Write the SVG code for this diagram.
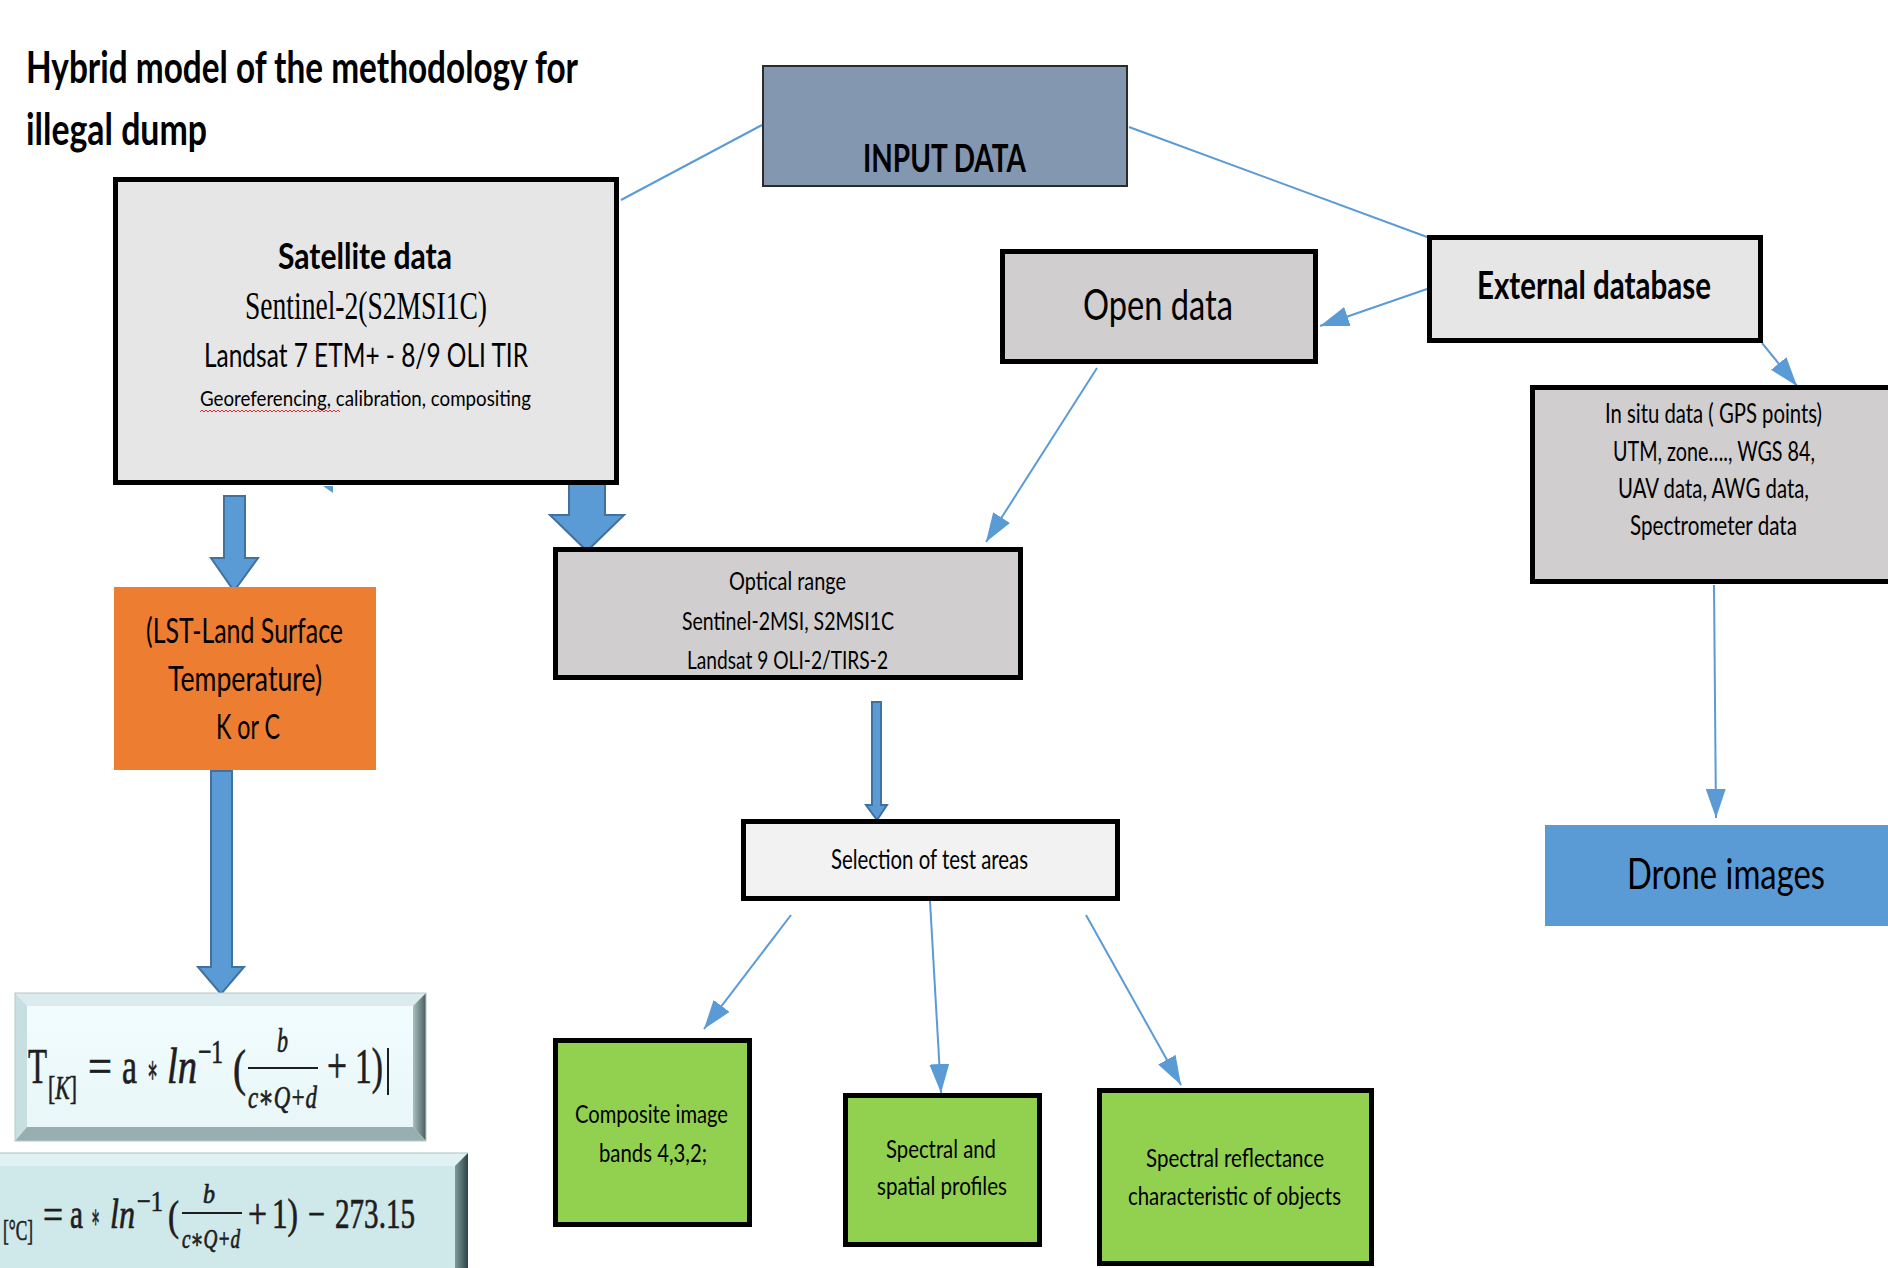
<svg xmlns="http://www.w3.org/2000/svg" width="1888" height="1268" viewBox="0 0 1888 1268">
<defs>
<style>
.t{font-family:Lato,"Liberation Sans",sans-serif;fill:#000}
.b{font-weight:bold}
.s{font-family:"Liberation Serif",serif;fill:#000}
.m{font-family:"Liberation Serif","DejaVu Serif",serif;fill:#1e1e1e;stroke:#1e1e1e;stroke-width:0.7}
.i{font-style:italic}
.box{stroke:#000;stroke-width:5}
.conn{stroke:#5b9bd5;stroke-width:2;fill:none;marker-end:url(#ah)}
.plain{stroke:#5b9bd5;stroke-width:2;fill:none}
.blk{fill:#5b9bd5;stroke:#41719c;stroke-width:2;stroke-linejoin:miter}
</style>
<marker id="ah" viewBox="0 0 29 20" refX="29" refY="10" markerWidth="29" markerHeight="20" markerUnits="userSpaceOnUse" orient="auto">
<path d="M0,0 L29,10 L0,20 z" fill="#5b9bd5"/>
</marker>
<linearGradient id="rb1" x1="0" y1="0" x2="1" y2="0">
<stop offset="0" stop-color="#a9bfc1"/><stop offset="1" stop-color="#4b5c5e"/>
</linearGradient>
<linearGradient id="rb2" x1="0" y1="0" x2="1" y2="0">
<stop offset="0" stop-color="#7f9a9c"/><stop offset="1" stop-color="#2e4244"/>
</linearGradient>
<linearGradient id="face1" x1="0" y1="0" x2="0" y2="1">
<stop offset="0" stop-color="#f2fdfe"/><stop offset="1" stop-color="#e8f6f8"/>
</linearGradient>
</defs>
<rect width="1888" height="1268" fill="#ffffff"/>

<g id="title">
<text class="t b" x="26" y="83" font-size="43" textLength="552" lengthAdjust="spacingAndGlyphs">Hybrid model of the methodology for</text>
<text class="t b" x="26" y="145" font-size="43" textLength="181" lengthAdjust="spacingAndGlyphs">illegal dump</text>
</g>

<g id="connectors">
<line class="plain" x1="762" y1="125" x2="621" y2="200"/>
<line class="plain" x1="1129" y1="127" x2="1427" y2="237"/>
<line class="conn" x1="1427" y1="289" x2="1320" y2="326"/>
<line class="conn" x1="1762" y1="343" x2="1797" y2="386"/>
<line class="conn" x1="1097" y1="368" x2="986" y2="542"/>
<line class="conn" x1="1714" y1="585" x2="1716" y2="818"/>
<line class="conn" x1="791" y1="915" x2="704" y2="1029"/>
<line class="conn" x1="930" y1="901" x2="941" y2="1093"/>
<line class="conn" x1="1086" y1="915" x2="1181" y2="1085"/>
<polygon class="blk" points="224,496 245,496 245,558 258,558 234,591 211,558 224,558"/>
<polygon class="blk" points="569,483 605,483 605,515 624,515 587,551 550,515 569,515"/>
<polygon class="blk" points="211,771 232,771 232,967 244,967 221,994 198,967 211,967"/>
<polygon class="blk" points="872,702 881,702 881,805 887,805 877,820 866,805 872,805" stroke-width="1.5"/>
<polygon points="323,486 333,486 333,493" fill="#5b9bd5"/>
</g>

<g id="input-data">
<rect x="763" y="66" width="364" height="120" fill="#8497b0" stroke="#2b2b2b" stroke-width="2"/>
<text class="t b" x="863" y="172" font-size="39" textLength="163" lengthAdjust="spacingAndGlyphs">INPUT DATA</text>
</g>

<g id="satellite-data">
<rect class="box" x="115.5" y="179.5" width="501" height="303" fill="#e6e6e6"/>
<text class="t b" x="278" y="269" font-size="36" textLength="174" lengthAdjust="spacingAndGlyphs">Satellite data</text>
<text class="s" x="245" y="319" font-size="41" textLength="242" lengthAdjust="spacingAndGlyphs">Sentinel-2(S2MSI1C)</text>
<text class="t" x="204" y="367" font-size="33" textLength="324" lengthAdjust="spacingAndGlyphs">Landsat 7 ETM+ - 8/9 OLI TIR</text>
<text class="t" x="200" y="406" font-size="22" textLength="331" lengthAdjust="spacingAndGlyphs">Georeferencing, calibration, compositing</text>
<path d="M200,412 l2,-2 l2,2 l2,-2 l2,2 l2,-2 l2,2 l2,-2 l2,2 l2,-2 l2,2 l2,-2 l2,2 l2,-2 l2,2 l2,-2 l2,2 l2,-2 l2,2 l2,-2 l2,2 l2,-2 l2,2 l2,-2 l2,2 l2,-2 l2,2 l2,-2 l2,2 l2,-2 l2,2 l2,-2 l2,2 l2,-2 l2,2 l2,-2 l2,2 l2,-2 l2,2 l2,-2 l2,2 l2,-2 l2,2 l2,-2 l2,2 l2,-2 l2,2 l2,-2 l2,2 l2,-2 l2,2 l2,-2 l2,2 l2,-2 l2,2 l2,-2 l2,2 l2,-2 l2,2 l2,-2 l2,2 l2,-2 l2,2 l2,-2 l2,2 l2,-2 l2,2 l2,-2 l2,2 l2,-2 l2,2" fill="none" stroke="#e03030" stroke-width="1"/>
</g>

<g id="external-database">
<rect class="box" x="1429.5" y="237.5" width="331" height="103" fill="#e7e6e6"/>
<text class="t b" x="1477" y="299" font-size="39" textLength="234" lengthAdjust="spacingAndGlyphs">External database</text>
</g>

<g id="open-data">
<rect class="box" x="1002.5" y="251.5" width="313" height="110" fill="#d0cece"/>
<text class="t" x="1083" y="320" font-size="42" textLength="150" lengthAdjust="spacingAndGlyphs">Open data</text>
</g>

<g id="in-situ-data">
<rect class="box" x="1532.5" y="387.5" width="400" height="194" fill="#d0cece"/>
<text class="t" x="1605" y="423" font-size="26" textLength="217" lengthAdjust="spacingAndGlyphs">In situ data ( GPS points)</text>
<text class="t" x="1613" y="461" font-size="26" textLength="202" lengthAdjust="spacingAndGlyphs">UTM, zone…., WGS 84,</text>
<text class="t" x="1618" y="498" font-size="26" textLength="191" lengthAdjust="spacingAndGlyphs">UAV data, AWG data,</text>
<text class="t" x="1630" y="535" font-size="26" textLength="167" lengthAdjust="spacingAndGlyphs">Spectrometer data</text>
</g>

<g id="drone-images">
<rect x="1545" y="825" width="360" height="101" fill="#5b9bd5"/>
<text class="t" x="1627" y="889" font-size="43" textLength="198" lengthAdjust="spacingAndGlyphs">Drone images</text>
</g>

<g id="optical-range">
<rect class="box" x="555.5" y="549.5" width="465" height="128" fill="#d0cece"/>
<text class="t" x="729" y="590" font-size="25" textLength="117" lengthAdjust="spacingAndGlyphs">Optical range</text>
<text class="t" x="682" y="630" font-size="25" textLength="212" lengthAdjust="spacingAndGlyphs">Sentinel-2MSI, S2MSI1C</text>
<text class="t" x="687" y="669" font-size="25" textLength="201" lengthAdjust="spacingAndGlyphs">Landsat 9 OLI-2/TIRS-2</text>
</g>

<g id="lst">
<rect x="114" y="587" width="262" height="183" fill="#ed7d31"/>
<text class="t" x="146" y="643" font-size="35" textLength="197" lengthAdjust="spacingAndGlyphs">(LST-Land Surface</text>
<text class="t" x="168" y="691" font-size="35" textLength="154" lengthAdjust="spacingAndGlyphs">Temperature)</text>
<text class="t" x="216" y="739" font-size="35" textLength="64" lengthAdjust="spacingAndGlyphs">K or C</text>
</g>

<g id="selection">
<rect class="box" x="743.5" y="821.5" width="374" height="77" fill="#f2f2f2"/>
<text class="t" x="831" y="869" font-size="26" textLength="197" lengthAdjust="spacingAndGlyphs">Selection of test areas</text>
</g>

<g id="composite">
<rect class="box" x="555.5" y="1040.5" width="194" height="184" fill="#92d050"/>
<text class="t" x="575" y="1123" font-size="25" textLength="153" lengthAdjust="spacingAndGlyphs">Composite image</text>
<text class="t" x="599" y="1162" font-size="25" textLength="108" lengthAdjust="spacingAndGlyphs">bands 4,3,2;</text>
</g>

<g id="spectral-spatial">
<rect class="box" x="845.5" y="1095.5" width="194" height="149" fill="#92d050"/>
<text class="t" x="886" y="1158" font-size="25" textLength="110" lengthAdjust="spacingAndGlyphs">Spectral and</text>
<text class="t" x="877" y="1195" font-size="25" textLength="130" lengthAdjust="spacingAndGlyphs">spatial profiles</text>
</g>

<g id="spectral-reflectance">
<rect class="box" x="1099.5" y="1090.5" width="272" height="173" fill="#92d050"/>
<text class="t" x="1146" y="1167" font-size="25" textLength="178" lengthAdjust="spacingAndGlyphs">Spectral reflectance</text>
<text class="t" x="1128" y="1205" font-size="25" textLength="213" lengthAdjust="spacingAndGlyphs">characteristic of objects</text>
</g>

<g id="formula-kelvin">
<rect x="15" y="993" width="411" height="148" fill="url(#face1)"/>
<polygon points="15,993 426,993 413,1006 27,1006" fill="#dcecee"/>
<polygon points="15,993 27,1006 27,1127 15,1141" fill="#c8dfe1"/>
<polygon points="426,993 426,1141 413,1127 413,1006" fill="url(#rb1)"/>
<polygon points="15,1141 426,1141 413,1127 27,1127" fill="#98aeb0"/>
<rect x="15" y="993" width="411" height="148" fill="none" stroke="#b8c8ca" stroke-width="1"/>
<text class="m" x="28" y="1083" font-size="50" textLength="19" lengthAdjust="spacingAndGlyphs">T</text>
<text class="m" x="48" y="1099" font-size="34" textLength="29" lengthAdjust="spacingAndGlyphs">[<tspan class="i">K</tspan>]</text>
<text class="m" x="88" y="1083" font-size="50" textLength="24" lengthAdjust="spacingAndGlyphs">=</text>
<text class="m" x="122" y="1083" font-size="50" textLength="15" lengthAdjust="spacingAndGlyphs">a</text>
<text class="m" x="147" y="1083" font-size="40" textLength="11" lengthAdjust="spacingAndGlyphs">∗</text>
<text class="m i" x="167" y="1083" font-size="50" textLength="30" lengthAdjust="spacingAndGlyphs">ln</text>
<text class="m" x="198" y="1063" font-size="34" textLength="25" lengthAdjust="spacingAndGlyphs">−1</text>
<text class="m" x="233" y="1085" font-size="50" textLength="13" lengthAdjust="spacingAndGlyphs">(</text>
<text class="m i" x="277" y="1052" font-size="34" textLength="11" lengthAdjust="spacingAndGlyphs">b</text>
<rect x="248" y="1067" width="70" height="2" fill="#1e1e1e"/>
<text class="m i" x="248" y="1108" font-size="32" textLength="69" lengthAdjust="spacingAndGlyphs">c∗Q+d</text>
<text class="m" x="327" y="1083" font-size="50" textLength="20" lengthAdjust="spacingAndGlyphs">+</text>
<text class="m" x="355" y="1083" font-size="50" textLength="28" lengthAdjust="spacingAndGlyphs">1)</text>
<rect x="387" y="1048" width="2" height="47" fill="#1e1e1e"/>
</g>

<g id="formula-celsius">
<rect x="-20" y="1153" width="488" height="130" fill="#cfe8ea"/>
<polygon points="-20,1153 468,1153 455,1166 -20,1166" fill="#e2f1f2"/>
<polygon points="468,1153 468,1283 455,1283 455,1166" fill="url(#rb2)"/>
<line x1="-20" y1="1153" x2="468" y2="1153" stroke="#a9bfc1" stroke-width="1"/>
<text class="m" x="-17" y="1228" font-size="42" textLength="17" lengthAdjust="spacingAndGlyphs">T</text>
<text class="m" x="3" y="1240" font-size="30" textLength="30" lengthAdjust="spacingAndGlyphs">[°C]</text>
<text class="m" x="43" y="1228" font-size="42" textLength="20" lengthAdjust="spacingAndGlyphs">=</text>
<text class="m" x="70" y="1228" font-size="42" textLength="13" lengthAdjust="spacingAndGlyphs">a</text>
<text class="m" x="91" y="1228" font-size="34" textLength="9" lengthAdjust="spacingAndGlyphs">∗</text>
<text class="m i" x="110" y="1228" font-size="42" textLength="25" lengthAdjust="spacingAndGlyphs">ln</text>
<text class="m" x="137" y="1211" font-size="30" textLength="26" lengthAdjust="spacingAndGlyphs">−1</text>
<text class="m" x="168" y="1230" font-size="42" textLength="11" lengthAdjust="spacingAndGlyphs">(</text>
<text class="m i" x="203" y="1203" font-size="28" textLength="12" lengthAdjust="spacingAndGlyphs">b</text>
<rect x="182" y="1212" width="60" height="2" fill="#1e1e1e"/>
<text class="m i" x="182" y="1248" font-size="27" textLength="58" lengthAdjust="spacingAndGlyphs">c∗Q+d</text>
<text class="m" x="248" y="1228" font-size="42" textLength="19" lengthAdjust="spacingAndGlyphs">+</text>
<text class="m" x="272" y="1228" font-size="42" textLength="26" lengthAdjust="spacingAndGlyphs">1)</text>
<text class="m" x="308" y="1228" font-size="42" textLength="17" lengthAdjust="spacingAndGlyphs">−</text>
<text class="m" x="335" y="1228" font-size="42" textLength="80" lengthAdjust="spacingAndGlyphs">273.15</text>
</g>
</svg>
